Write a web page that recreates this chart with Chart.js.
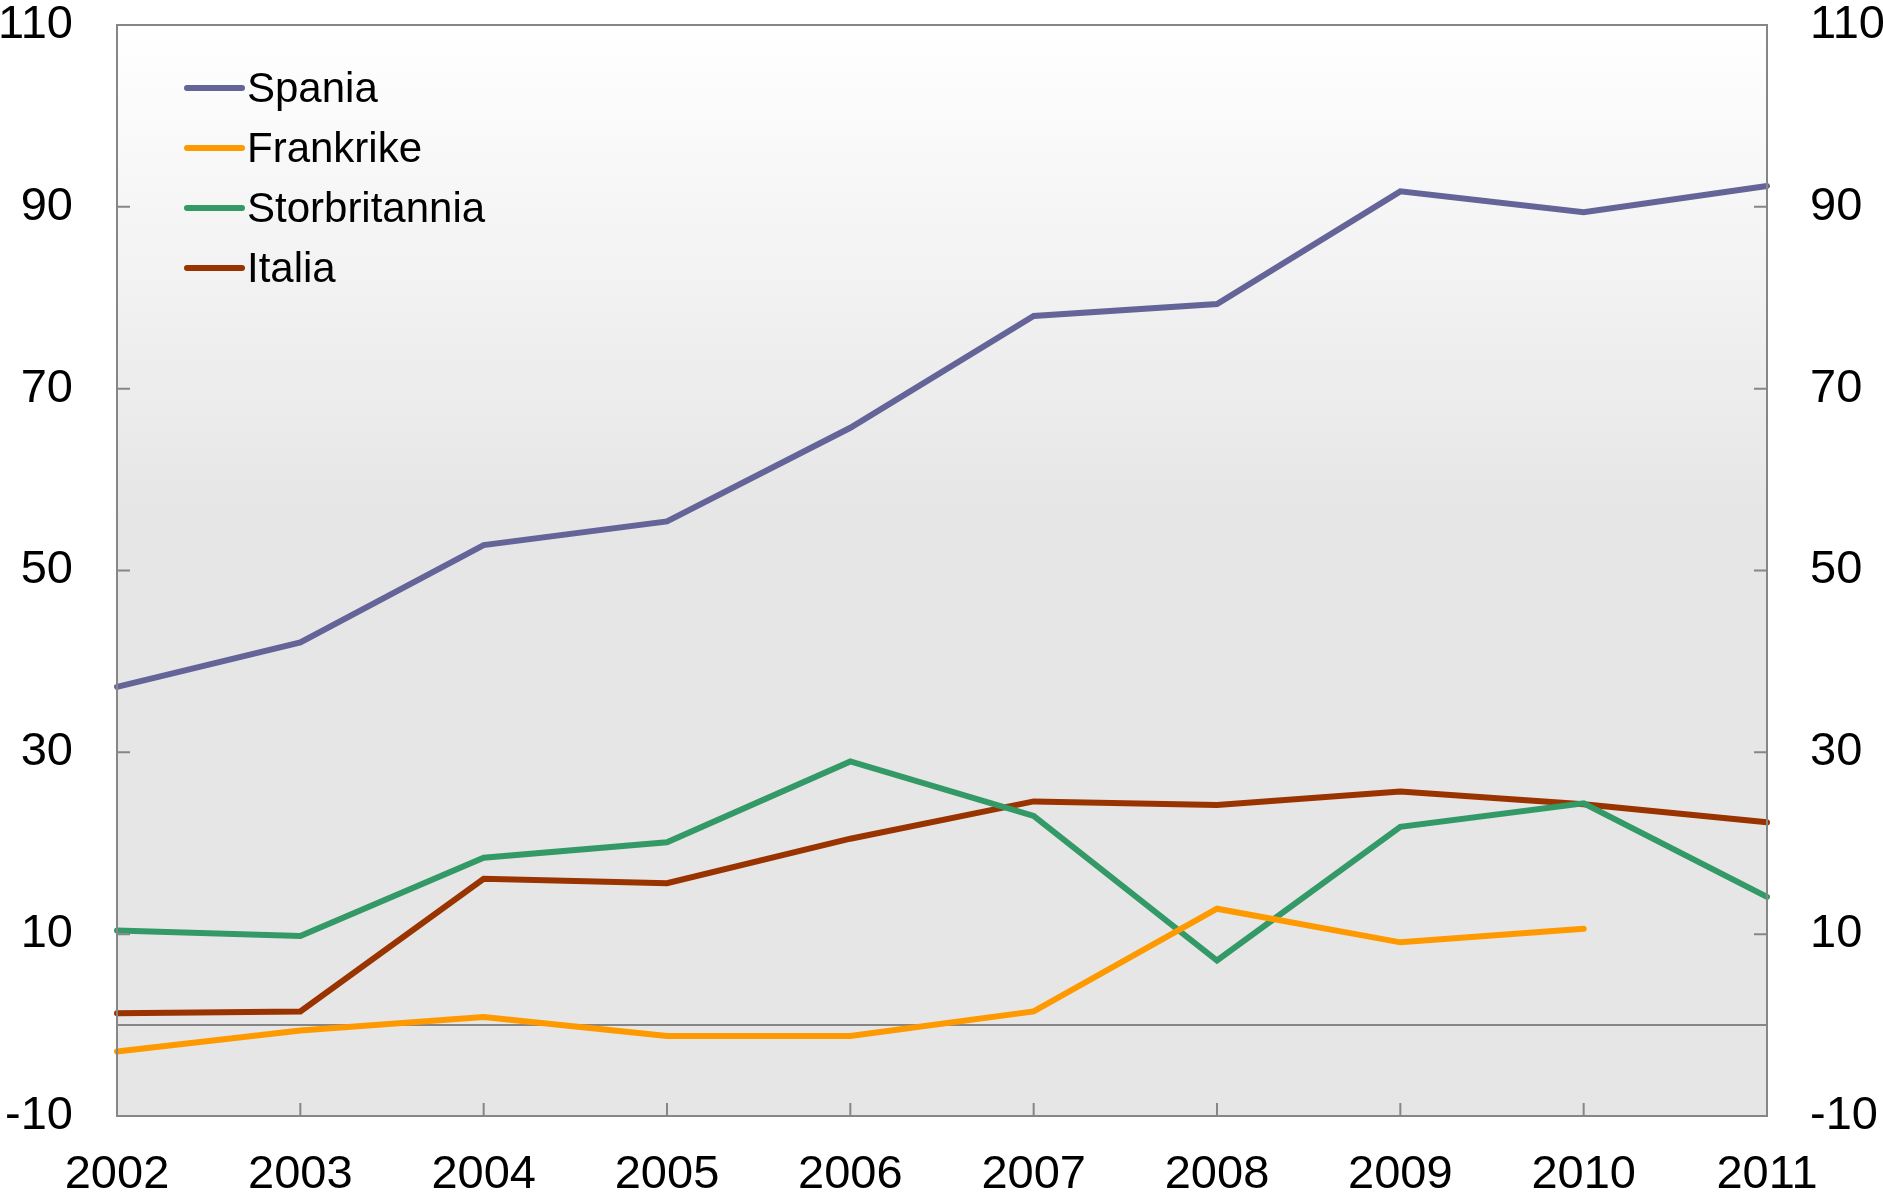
<!DOCTYPE html>
<html>
<head>
<meta charset="utf-8">
<script src="https://cdn.jsdelivr.net/npm/chart.js@4/dist/chart.umd.min.js"></script>
<style>
  html, body { margin: 0; padding: 0; background: #ffffff; }
  #wrap { width: 1883px; height: 1203px; position: relative; }
</style>
</head>
<body>
<div id="wrap"><canvas id="lineChart"></canvas></div>
<script>
// data
const years = ['2002', '2003', '2004', '2005', '2006', '2007', '2008', '2009', '2010', '2011'];
const spania = [37.2, 42.1, 52.8, 55.4, 65.7, 78.0, 79.3, 91.7, 89.4, 92.3];
const frankrike = [-2.9, -0.6, 0.9, -1.2, -1.2, 1.5, 12.8, 9.1, 10.6, null];
const storbritannia = [10.4, 9.8, 18.4, 20.1, 29.0, 23.0, 7.1, 21.8, 24.4, 14.1];
const italia = [1.3, 1.5, 16.1, 15.6, 20.5, 24.6, 24.2, 25.7, 24.3, 22.3];
const yMin = -10, yMax = 110, yStep = 20;

const axisGrey = '#868686';
const fontFamily = '"Liberation Sans", Arial, sans-serif';
const lineW = 6;

// gradient background, zero line, frame, inward ticks and the legend box
const decorPlugin = {
    id: 'decor',
    beforeDraw(chart) {
        const { ctx, chartArea: a } = chart;
        const g = ctx.createLinearGradient(0, a.top, 0, a.bottom);
        g.addColorStop(0, '#ffffff');
        g.addColorStop(0.45, '#e6e6e6');
        g.addColorStop(1, '#e6e6e6');
        ctx.save();
        ctx.fillStyle = g;
        ctx.fillRect(a.left, a.top, a.right - a.left, a.bottom - a.top);
        ctx.restore();
    },
    beforeDatasetsDraw(chart) {
        const { ctx, chartArea: a } = chart;
        const y0 = chart.scales.y.getPixelForValue(0);
        ctx.save();
        ctx.strokeStyle = axisGrey;
        ctx.lineWidth = 2;
        ctx.beginPath();
        ctx.moveTo(a.left, y0);
        ctx.lineTo(a.right, y0);
        ctx.stroke();
        ctx.restore();
    },
    afterDatasetsDraw(chart) {
        const { ctx, chartArea: a } = chart;
        const tick = 13;
        ctx.save();
        ctx.strokeStyle = axisGrey;
        ctx.lineWidth = 2;
        ctx.strokeRect(a.left, a.top, a.right - a.left, a.bottom - a.top);
        ctx.beginPath();
        chart.scales.y.ticks.forEach(t => {
            const py = chart.scales.y.getPixelForValue(t.value);
            ctx.moveTo(a.left, py); ctx.lineTo(a.left + tick, py);
            ctx.moveTo(a.right, py); ctx.lineTo(a.right - tick, py);
        });
        years.forEach((yr, i) => {
            const px = chart.scales.x.getPixelForValue(i);
            ctx.moveTo(px, a.bottom); ctx.lineTo(px, a.bottom - tick);
        });
        ctx.stroke();
        ctx.restore();
    },
    afterDraw(chart) {
        const { ctx, chartArea: a } = chart;
        const x0 = a.left + 70, lineLen = 55, rowH = 60;
        ctx.save();
        ctx.font = '42px ' + fontFamily;
        ctx.textBaseline = 'middle';
        ctx.textAlign = 'left';
        chart.data.datasets.forEach((ds, i) => {
            const yy = a.top + 63 + i * rowH;
            ctx.strokeStyle = ds.borderColor;
            ctx.lineWidth = lineW;
            ctx.lineCap = 'round';
            ctx.beginPath();
            ctx.moveTo(x0, yy);
            ctx.lineTo(x0 + lineLen, yy);
            ctx.stroke();
            ctx.fillStyle = '#000000';
            ctx.fillText(ds.label, x0 + lineLen + 5, yy + 2);
        });
        ctx.restore();
    }
};

function makeSet(label, data, color) {
    return {
        label: label,
        data: data,
        borderColor: color,
        backgroundColor: color,
        borderWidth: lineW,
        pointRadius: 0,
        tension: 0,
        fill: false,
        borderCapStyle: 'round'
    };
}

function fixY(width) {
    return function(scale) {
        scale.width = width;
        scale.paddingTop = 0;
        scale.paddingBottom = 0;
    };
}

const ctx = document.getElementById('lineChart').getContext('2d');
const lineChart = new Chart(ctx, {
    type: 'line',
    data: {
        labels: years,
        datasets: [
            makeSet('Spania', spania, '#646499'),
            makeSet('Frankrike', frankrike, '#ff9900'),
            makeSet('Storbritannia', storbritannia, '#339966'),
            makeSet('Italia', italia, '#993300')
        ]
    },
    options: {
        responsive: true,
        maintainAspectRatio: false,
        animation: false,
        layout: { padding: { top: 25, left: 0, right: 0, bottom: 0 } },
        scales: {
            x: {
                offset: false,
                grid: { display: false, drawTicks: false },
                border: { display: false },
                ticks: {
                    color: '#000000',
                    font: { family: fontFamily, size: 47 },
                    padding: 31,
                    maxRotation: 0,
                    autoSkip: false
                },
                afterFit(scale) {
                    scale.height = 87;
                    scale.paddingLeft = 0;
                    scale.paddingRight = 0;
                }
            },
            y: {
                position: 'left',
                min: yMin,
                max: yMax,
                grid: { display: false, drawTicks: false },
                border: { display: false },
                ticks: {
                    stepSize: yStep,
                    color: '#000000',
                    font: { family: fontFamily, size: 47 },
                    padding: 44
                },
                afterFit: fixY(117)
            },
            y2: {
                position: 'right',
                min: yMin,
                max: yMax,
                grid: { display: false, drawTicks: false },
                border: { display: false },
                ticks: {
                    stepSize: yStep,
                    color: '#000000',
                    font: { family: fontFamily, size: 47 },
                    padding: 43
                },
                afterFit: fixY(116)
            }
        },
        plugins: {
            legend: { display: false },
            tooltip: { enabled: false }
        }
    },
    plugins: [decorPlugin]
});
</script>
</body>
</html>
